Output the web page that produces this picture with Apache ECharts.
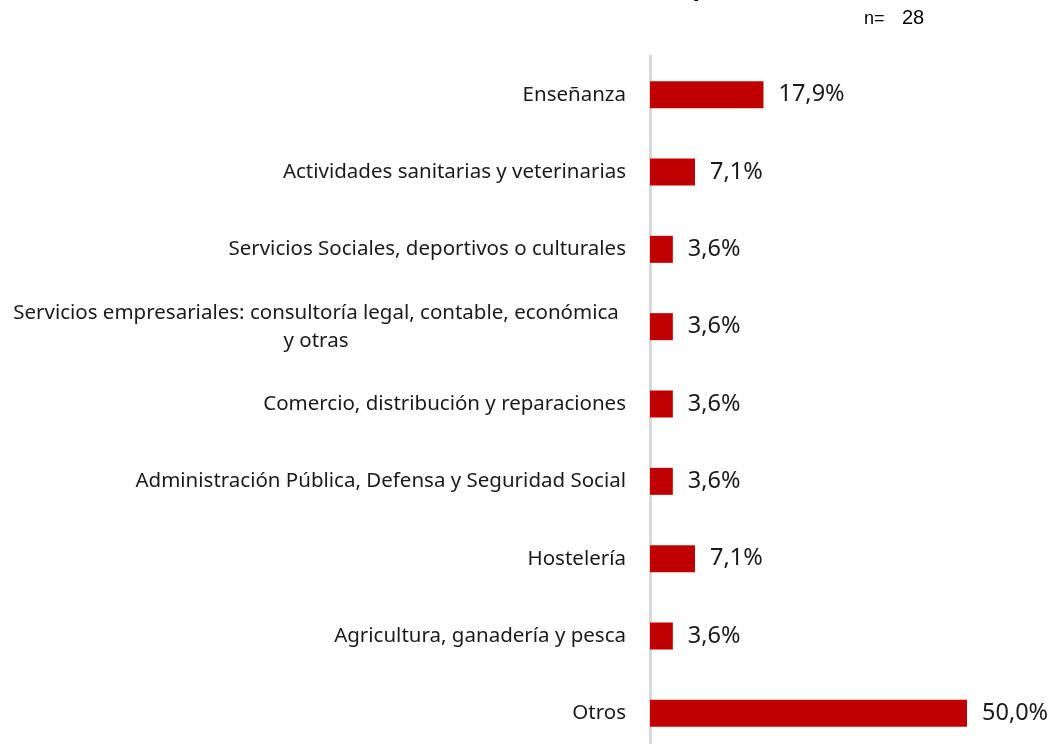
<!DOCTYPE html>
<html><head><meta charset="utf-8">
<script src="https://cdn.jsdelivr.net/npm/echarts@6/dist/echarts.min.js"></script>
<style>html,body{margin:0;padding:0;background:#fff;overflow:hidden;width:1051px;height:744px}#c{width:1051px;height:752px}</style>
</head><body><div id="c"></div>
<script>
const categories = [
  "Enseñanza",
  "Actividades sanitarias y veterinarias",
  "Servicios Sociales, deportivos o culturales",
  "Servicios empresariales: consultoría legal, contable, económica\ny otras",
  "Comercio, distribución y reparaciones",
  "Administración Pública, Defensa y Seguridad Social",
  "Hostelería",
  "Agricultura, ganadería y pesca",
  "Otros"
];
const values = [17.9, 7.1, 3.6, 3.6, 3.6, 3.6, 7.1, 3.6, 50.0];
const sampleN = "28";
const titleText = "Sector de actividad de la empresa (%)";

const chart = echarts.init(document.getElementById('c'));
const font = "'Noto Sans', 'Open Sans', sans-serif";
chart.setOption({
  animation: false,
  grid: { left: 650, right: 84, top: 56, bottom: 0 },
  xAxis: { type: 'value', min: 0, max: 50, show: false },
  yAxis: {
    type: 'category', data: categories, inverse: true,
    axisLine: { show: true, lineStyle: { color: '#d9d9d9', width: 3 } },
    axisTick: { show: false },
    axisLabel: {
      margin: 24, color: '#1a1a1a', fontSize: 20.5, fontFamily: font, lineHeight: 28,
      formatter: function (v) {
        if (v.indexOf('\n') >= 0) {
          return v.split('\n').map(s => '{c|' + s + '}').join('\n');
        }
        return v;
      },
      rich: { c: { width: 620, align: 'center', fontSize: 20.5, fontFamily: font, color: '#1a1a1a', lineHeight: 28 } }
    }
  },
  series: [{
    type: 'bar', data: values, barWidth: 27,
    itemStyle: { color: '#C00000' },
    label: {
      show: true, position: 'right', distance: 15, color: '#1a1a1a', fontSize: 23.5, fontFamily: font,
      formatter: p => p.value.toFixed(1).replace('.', ',') + '%'
    }
  }],
  graphic: [
    { type: 'text', left: 343, top: -25, style: { text: titleText, font: 'bold 25px ' + font, fill: '#000' } },
    { type: 'text', x: 864, y: 19, style: { text: 'n=', font: '18px Arial, Liberation Sans', fill: '#000', verticalAlign: 'middle' } },
    { type: 'text', x: 902, y: 18, style: { text: sampleN, font: '20px Arial, Liberation Sans', fill: '#000', verticalAlign: 'middle' } }
  ]
});
</script></body></html>
